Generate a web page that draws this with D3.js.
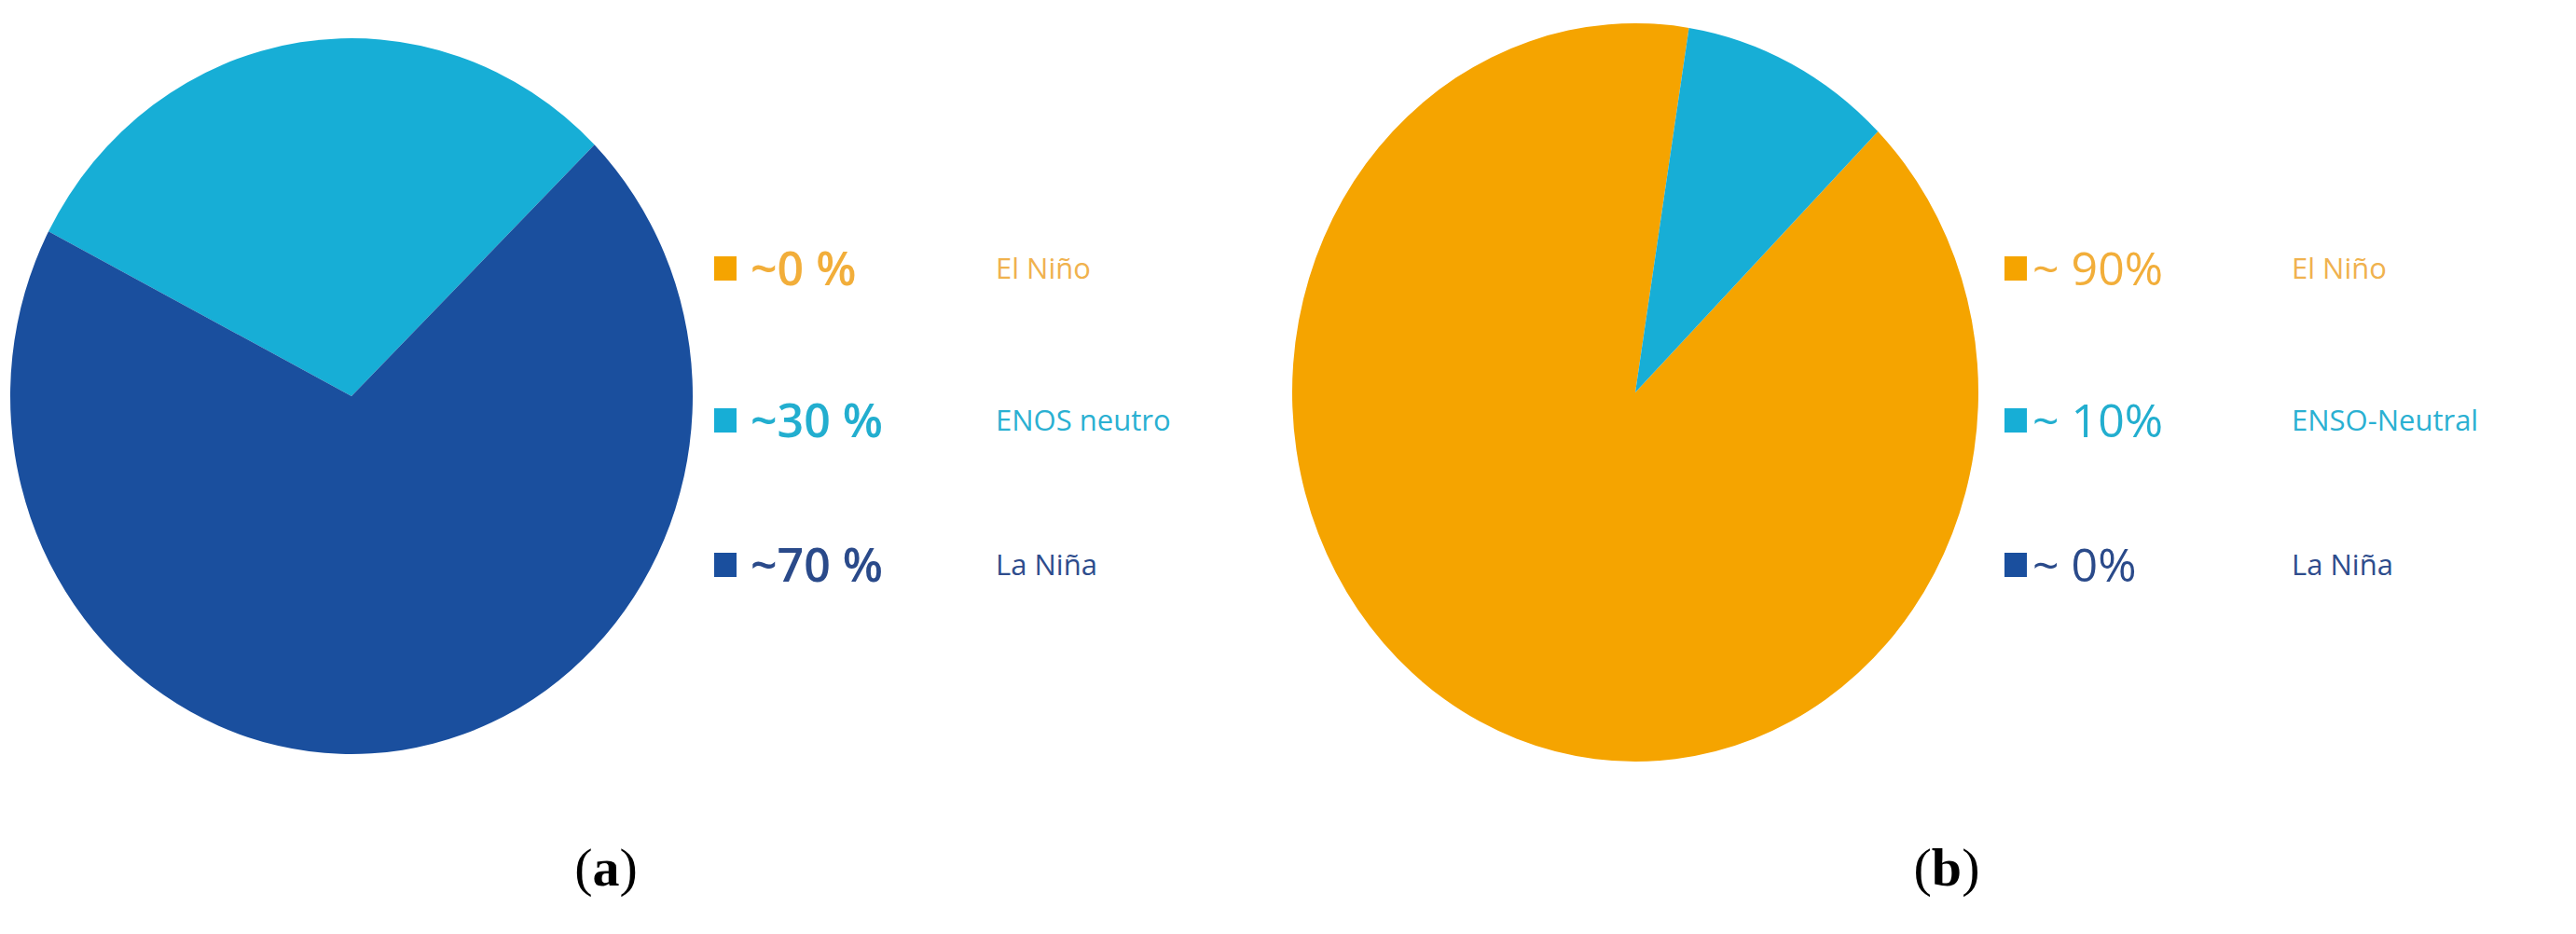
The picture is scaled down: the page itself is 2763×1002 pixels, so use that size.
<!DOCTYPE html>
<html><head><meta charset="utf-8">
<script src="https://cdn.jsdelivr.net/npm/d3@7"></script>
<style>body{margin:0;background:#fff}</style></head>
<body><svg id="c" width="2763" height="1002"></svg>
<script>
const categories = ["El Niño","Neutral","La Niña"];
const valuesA = [0, 30, 70];
const valuesB = [90, 10, 0];
const pctA = ["~0 %","~30 %","~70 %"];
const pctB = ["~ 90%","~ 10%","~ 0%"];
const namesA = ["El Niño","ENOS neutro","La Niña"];
const namesB = ["El Niño","ENSO-Neutral","La Niña"];
const colors = ["#F5A400","#17AED6","#1A4F9E"];
const textCols = ["#F0B24E","#2AB0D2","#2E4C8C"];
const pctCols = ["#F2AE3A","#22AECF","#2A4A8A"];

const svg = d3.select("#c");
const color = d3.scaleOrdinal().domain(categories).range(colors);
const rad = Math.PI/180;

function drawPie(vals, cx, cy, rx, ry, start){
  const pie = d3.pie().sort(null).startAngle(start*rad).endAngle(start*rad+2*Math.PI);
  const arc = d3.arc().innerRadius(0).outerRadius(rx);
  const g = svg.append("g").attr("transform",`translate(${cx},${cy}) scale(1,${ry/rx})`);
  g.selectAll("path").data(pie(vals.map((v,i)=>({v,c:categories[i]}))).map((d,i)=>d)).join("path")
   .attr("d", d=> d.data.v>0? arc({startAngle:d.startAngle,endAngle:d.endAngle}) : null)
   .attr("fill", d=>color(d.data.c));
}
// pie value accessor
const _pie = d3.pie;
function pieData(vals){return vals;}
function drawPie2(vals, cx, cy, rx, ry, start){
  const pie = d3.pie().sort(null).value(d=>d.v).startAngle(start*rad).endAngle(start*rad+2*Math.PI);
  const arc = d3.arc().innerRadius(0).outerRadius(rx);
  const g = svg.append("g").attr("transform",`translate(${cx},${cy}) scale(1,${ry/rx})`);
  g.selectAll("path").data(pie(vals.map((v,i)=>({v,c:categories[i]})))).join("path")
   .filter(d=>d.data.v>0)
   .attr("d", arc)
   .attr("fill", d=>color(d.data.c));
}
drawPie2(valuesA, 377, 425, 366, 384, -62.6);
drawPie2(valuesB, 1754, 421, 368, 396, 45);

function legend(x, pcts, names, bold, xp, xn){
  const ys=[288,451,606];
  categories.forEach((c,i)=>{
    svg.append("rect").attr("x",x).attr("y",ys[i]-13).attr("width",24).attr("height",26).attr("fill",color(c));
    svg.append("text").attr("x",xp).attr("y",ys[i]).attr("dy","0.36em")
      .attr("font-family","Open Sans, sans-serif").attr("font-size",50).attr("font-weight",bold?600:400)
      .attr("fill",pctCols[i]).text(pcts[i]);
    svg.append("text").attr("x",xn).attr("y",ys[i]).attr("dy","0.36em")
      .attr("font-family","Open Sans, sans-serif").attr("font-size",31)
      .attr("fill",textCols[i]).text(names[i]);
  });
}
legend(766, pctA, namesA, true, 805, 1068);
legend(2150, pctB, namesB, false, 2180, 2458);

function cap(x, letter){
  const t = svg.append("text").attr("x",x).attr("y",950).attr("text-anchor","middle")
   .attr("font-family","Liberation Serif, serif").attr("font-size",58).attr("fill","#000");
  t.append("tspan").text("(");
  t.append("tspan").attr("font-weight","bold").text(letter);
  t.append("tspan").text(")");
}
cap(650,"a"); cap(2088,"b");
</script></body></html>
